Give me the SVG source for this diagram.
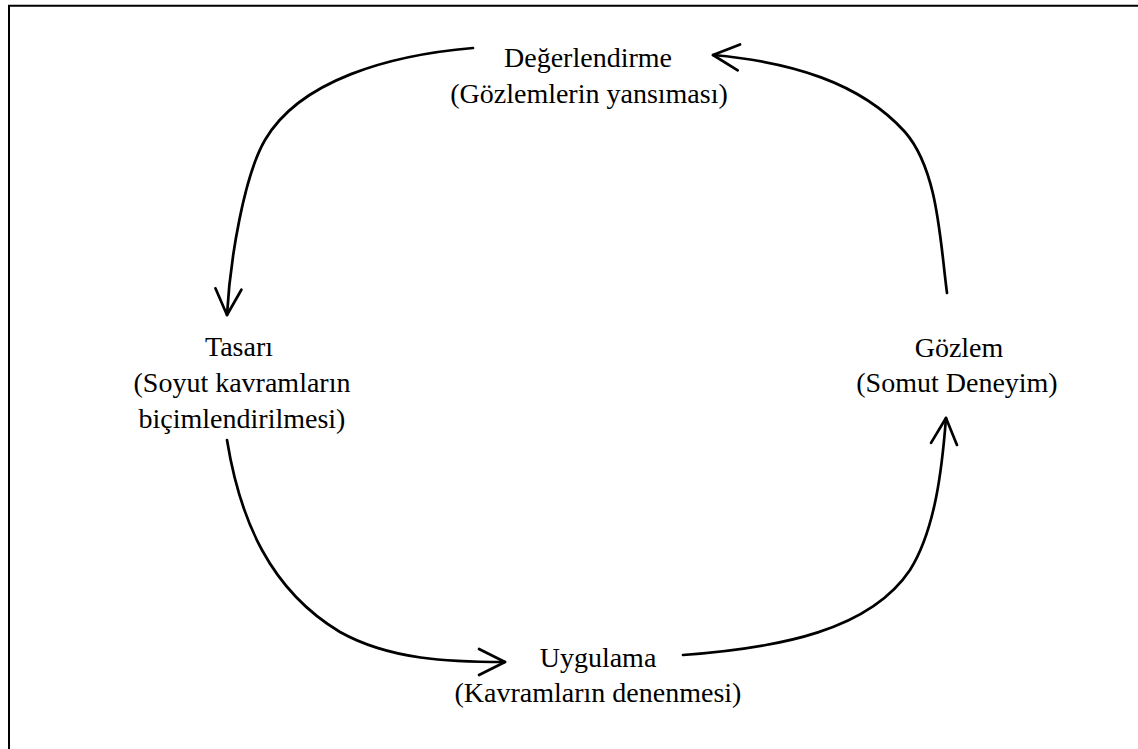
<svg xmlns="http://www.w3.org/2000/svg" width="1138" height="749" viewBox="0 0 1138 749">
  <style>
    .lbl { font-family: "Liberation Serif", "Times New Roman", serif; font-size: 28px; fill: #000; text-anchor: middle; }
    .flow { fill: none; stroke: #000; stroke-width: 2.7; stroke-linecap: round; marker-end: url(#openArrow); }
    .frame { fill: none; stroke: #000; stroke-width: 2; }
  </style>
  <defs>
    <marker id="openArrow" markerUnits="userSpaceOnUse" markerWidth="40" markerHeight="40" viewBox="-30 -20 40 40" refX="0" refY="0" orient="auto" overflow="visible">
      <path d="M-26,-13 L0,0 L-26,13" fill="none" stroke="#000" stroke-width="2.7" stroke-linecap="round" stroke-linejoin="round"/>
    </marker>
  </defs>
  <rect width="1138" height="749" fill="#fff"/>
  <!-- page frame: only the top and left edges fall inside the canvas -->
  <path class="frame" d="M9,749 V5.7 H1138"/>

  <g id="connectors">
    <path class="flow" d="M473,48 C390,55 300,80 265,140 C244,176 230,260 227,315"/>
    <path class="flow" d="M227,440 C240,520 270,590 340,632 C390,660 450,662 505,662"/>
    <path class="flow" d="M683,655 C780,648 870,630 910,570 C935,530 942,470 946,418"/>
    <path class="flow" d="M947,293 C940,240 938,170 905,132 C860,82 790,62 713,55"/>
  </g>

  <g id="degerlendirme">
    <text class="lbl" x="588" y="67">Değerlendirme</text>
    <text class="lbl" x="589" y="103">(Gözlemlerin yansıması)</text>
  </g>
  <g id="tasari">
    <text class="lbl" x="239" y="356">Tasarı</text>
    <text class="lbl" x="242" y="392">(Soyut kavramların</text>
    <text class="lbl" x="242" y="428">biçimlendirilmesi)</text>
  </g>
  <g id="gozlem">
    <text class="lbl" x="959" y="357">Gözlem</text>
    <text class="lbl" x="957" y="392">(Somut Deneyim)</text>
  </g>
  <g id="uygulama">
    <text class="lbl" x="598" y="667">Uygulama</text>
    <text class="lbl" x="598" y="702">(Kavramların denenmesi)</text>
  </g>
</svg>
